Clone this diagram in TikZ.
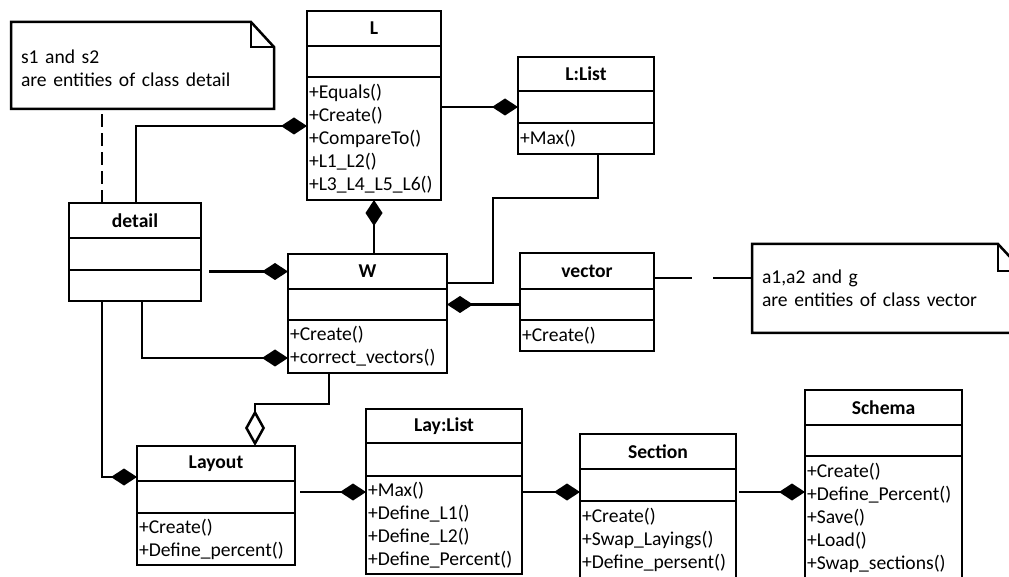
\documentclass[tikz,border=0pt]{standalone}
\usepackage{fontspec}
\setmainfont{Carlito}
\usetikzlibrary{positioning, calc, arrows.meta}
\tikzstyle{part} = [draw, line width=2.5pt, outer sep=0pt, inner xsep=2pt, inner ysep=0pt, font=\fontsize{19.6}{23}\selectfont]
\tikzstyle{head} = [part, font=\fontsize{19.6}{23}\selectfont\bfseries, minimum height=35pt]
\tikzstyle{attr} = [part, minimum height=31pt]
\tikzstyle{ops} = [part, align=left]
\tikzstyle{notebox} = [outer sep=0pt, inner xsep=10pt, align=left, font=\fontsize{19.6}{23}\selectfont]
\tikzstyle{link} = [line width=2.5pt]
\tikzstyle{comp} = [link, -{Diamond[length=26pt,width=17pt]}]
\tikzstyle{aggr} = [link, -{Diamond[fill=white,length=36pt,width=20pt]}]

\begin{document}
\begin{tikzpicture}[x=1pt,y=1pt,node distance=0pt]
    \useasboundingbox (0,0) rectangle (1009,576);
    \clip (0,0) rectangle (1009,576);
    % classes
    \node[head, minimum width=132pt] (dHead) at (135,355.5) {detail};
    \node[attr, minimum width=132pt, minimum height=32pt][below=of dHead] (dAttr) {};
    \node[attr, minimum width=132pt][below=of dAttr] (dOps) {};

    \node[head, minimum width=134pt] (LHead) at (374,547.5) {L};
    \node[attr, minimum width=134pt][below=of LHead] (LAttr) {};
    \node[ops, text width=130pt, minimum height=123pt][below=of LAttr] (LOps) {+Equals()\\+Create()\\+CompareTo()\\+L1\_L2()\\+L3\_L4\_L5\_L6()};

    \node[head, minimum width=136pt, minimum height=34pt] (LLHead) at (586,502) {L:List};
    \node[attr, minimum width=136pt, minimum height=32pt][below=of LLHead] (LLAttr) {};
    \node[ops, text width=132pt, minimum height=31pt][below=of LLAttr] (LLOps) {+Max()};

    \node[head, minimum width=159pt] (WHead) at (367.5,304.5) {W};
    \node[attr, minimum width=159pt][below=of WHead] (WAttr) {};
    \node[ops, text width=155pt, minimum height=53pt][below=of WAttr] (WOps) {+Create()\\+correct\_vectors()};

    \node[head, minimum width=134pt, minimum height=36pt] (vHead) at (587,305) {vector};
    \node[attr, minimum width=134pt][below=of vHead] (vAttr) {};
    \node[ops, text width=130pt, minimum height=31pt][below=of vAttr] (vOps) {+Create()};

    \node[head, minimum width=158pt] (LyHead) at (216,112.5) {Layout};
    \node[attr, minimum width=158pt, minimum height=32pt][below=of LyHead] (LyAttr) {};
    \node[ops, text width=154pt, minimum height=52pt][below=of LyAttr] (LyOps) {+Create()\\+Define\_percent()};

    \node[head, minimum width=156pt, minimum height=34pt] (LayHead) at (444,150) {Lay:List};
    \node[attr, minimum width=156pt, minimum height=33pt][below=of LayHead] (LayAttr) {};
    \node[ops, text width=152pt, minimum height=98pt][below=of LayAttr] (LayOps) {+Max()\\+Define\_L1()\\+Define\_L2()\\+Define\_Percent()};

    \node[head, minimum width=156pt] (SecHead) at (658,124.5) {Section};
    \node[attr, minimum width=156pt, minimum height=32pt][below=of SecHead] (SecAttr) {};
    \node[ops, text width=152pt, minimum height=78pt][below=of SecAttr] (SecOps) {+Create()\\+Swap\_Layings()\\+Define\_persent()};

    \node[head, minimum width=157pt] (SchHead) at (883.5,168.5) {Schema};
    \node[attr, minimum width=157pt][below=of SchHead] (SchAttr) {};
    \node[ops, text width=153pt, minimum height=124pt][below=of SchAttr] (SchOps) {+Create()\\+Define\_Percent()\\+Save()\\+Load()\\+Swap\_sections()};

    % notes
    \node[notebox, text width=243pt, minimum height=87pt] (note1) at (142.5,507.5) {s1 and s2\\are entities of class detail};
    \draw[link] ([yshift=3pt]note1.north west) -- ([xshift=-23pt,yshift=3pt]note1.north east) -- ([yshift=-22pt]note1.north east) -- ([yshift=3pt]note1.south east) -- ([yshift=3pt]note1.south west) -- cycle;
    \draw[link] ([xshift=-23pt,yshift=3pt]note1.north east) |- ([yshift=-22pt]note1.north east);
    \node[notebox, text width=251pt, minimum height=89pt] (note2) at (887.5,287.5) {a1,a2 and g\\are entities of class vector};
    \draw[link] (note2.north west) -- ([xshift=-25pt]note2.north east) -- ([yshift=-27pt]note2.north east) -- (note2.south east) -- (note2.south west) -- cycle;
    \draw[link] ([xshift=-25pt]note2.north east) |- ([yshift=-27pt]note2.north east);

    % connectors
    \coordinate (dTopA) at ([xshift=33pt]dHead.north west);
    \coordinate (dTopB) at ([xshift=67pt]dHead.north west);
    \coordinate (dBotA) at ([xshift=33pt]dOps.south west);
    \coordinate (dBotB) at ([xshift=73pt]dOps.south west);
    \coordinate (LIn) at ([yshift=-49pt]LOps.north west);
    \coordinate (WIn) at ([yshift=-38pt]WOps.north west);
    \coordinate (LyIn) at ([yshift=-31pt]LyHead.north west);
    \coordinate (WOut) at ([xshift=41pt]WOps.south west);
    \coordinate (WBend) at ([yshift=-31pt]WOut);
    \coordinate (LyTop) at ([xshift=118pt]LyHead.north west);
    \coordinate (LLOut) at ([xshift=80pt]LLOps.south west);
    \coordinate (LLBend) at (493,378);
    \coordinate (WOutR) at ([yshift=6pt]WHead.south east);
    \coordinate (vOut) at ([yshift=-7pt]vHead.east);
    \coordinate (LayIn) at ([yshift=-16pt]LayOps.north west);
    \coordinate (SecIn) at ([yshift=9pt]SecOps.north west);
    \coordinate (SchIn) at ([yshift=-36pt]SchOps.north west);

    \draw[link, dash pattern=on 13pt off 6pt] (dTopA) -- ([yshift=3pt]dTopA |- note1.south);
    \draw[comp] (dTopB) |- (LIn);
    \draw[comp, shorten <=8pt] (dAttr.east |- WHead.west) -- (WHead.west);
    \draw[comp] (dBotB) |- (WIn);
    \draw[comp] (dBotA) |- (LyIn);
    \draw[aggr] (WOut) -- (WBend) -| (LyTop);
    \draw[comp] (LOps.south |- WHead.north) -- (LOps.south);
    \draw[comp] (LOps.east |- LLAttr.west) -- (LLAttr.west);
    \draw[link] (LLOut) |- (LLBend) |- (WOutR);
    \draw[comp] (vAttr.west) -- (vAttr.west -| WAttr.east);
    \draw[link, dash pattern=on 38pt off 21pt] (vOut) -- (vOut -| note2.west);
    \draw[comp, shorten <=5pt] (LayIn -| LyAttr.east) -- (LayIn);
    \draw[comp] (SecIn -| LayOps.east) -- (SecIn);
    \draw[comp, shorten <=3pt] (SchIn -| SecOps.east) -- (SchIn);
\end{tikzpicture}
\end{document}
